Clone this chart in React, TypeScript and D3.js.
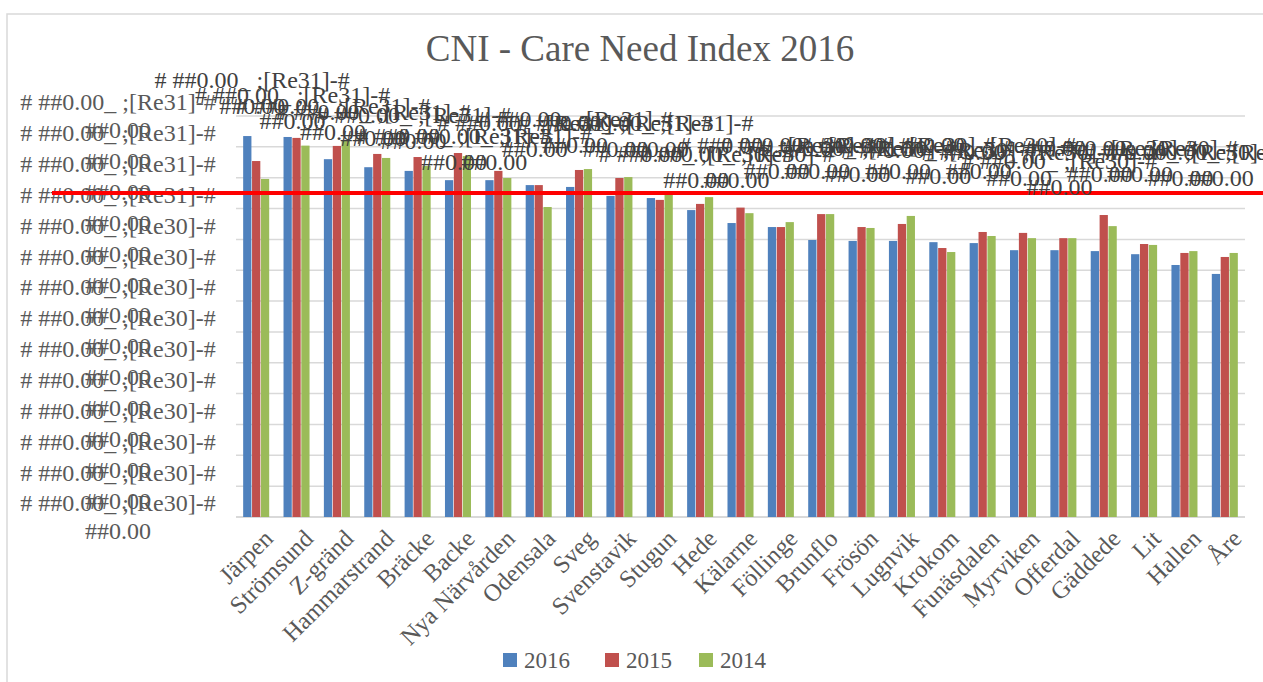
import React from "react";
import * as d3 from "d3";

// chart values
const categories = [
  "Järpen", "Strömsund", "Z-gränd", "Hammarstrand", "Bräcke", "Backe",
  "Nya Närvården", "Odensala", "Sveg", "Svenstavik", "Stugun", "Hede",
  "Kälarne", "Föllinge", "Brunflo", "Frösön", "Lugnvik", "Krokom",
  "Funäsdalen", "Myrviken", "Offerdal", "Gäddede", "Lit", "Hallen", "Åre",
];
const seriesNames = ["2016", "2015", "2014"];
const values2016 = [1.235, 1.232, 1.16, 1.134, 1.122, 1.092, 1.092, 1.076, 1.07, 1.041, 1.034, 0.995, 0.953, 0.94, 0.898, 0.895, 0.895, 0.891, 0.888, 0.865, 0.865, 0.862, 0.852, 0.817, 0.788];
const values2015 = [1.154, 1.229, 1.203, 1.177, 1.167, 1.18, 1.122, 1.076, 1.125, 1.099, 1.028, 1.015, 1.003, 0.94, 0.982, 0.94, 0.95, 0.872, 0.924, 0.921, 0.904, 0.979, 0.885, 0.856, 0.843];
const values2014 = [1.096, 1.204, 1.222, 1.164, 1.138, 1.17, 1.099, 1.005, 1.128, 1.102, 1.044, 1.037, 0.985, 0.956, 0.982, 0.937, 0.976, 0.859, 0.911, 0.904, 0.904, 0.943, 0.882, 0.862, 0.856];
// where each (broken) data label sits, in value units
const labelLevel = [1.417, 1.368, 1.335, 1.313, 1.303, 1.235, 1.235, 1.28, 1.293, 1.28, 1.28, 1.177, 1.177, 1.206, 1.206, 1.196, 1.206, 1.19, 1.206, 1.183, 1.157, 1.196, 1.196, 1.183, 1.183];
const average = 1.05;
const yMax = 1.3;

// the number format Excel failed to render
const fmtHigh = "# ##0.00_ ;[Re31]-#";
const fmtLow = "# ##0.00_ ;[Re30]-#";
const fmtTail = "##0.00";

const colors = ["#4F81BD", "#C0504D", "#9BBB59"];
const W = 1263, H = 682;
const plotL = 236, plotR = 1245, plotT = 116, plotB = 517;
const FONT = "'Liberation Serif', 'Times New Roman', serif";
const TXT = "#595959";

export default function App() {
  const series = [values2016, values2015, values2014];
  const x = d3.scaleBand<string>().domain(categories).range([plotL, plotR])
    .paddingInner(0.355).paddingOuter(0.1775);
  const x1 = d3.scaleBand<string>().domain(seriesNames).range([0, x.bandwidth()]).paddingInner(0.07);
  const y = d3.scaleLinear().domain([0, yMax]).range([plotB, plotT]);
  const ticks = y.ticks(13);
  const fmt = (v: number) => (v >= 0.999 ? fmtHigh : fmtLow);

  return (
    <svg width={W} height={H} style={{ position: "absolute", left: 0, top: 0, background: "#fff" }}
      fontFamily={FONT}>
      <rect x={7} y={14} width={1400} height={800} fill="#fff" stroke="#D9D9D9" strokeWidth={1.5} />
      <text x={640} y={61} textAnchor="middle" fontSize={37} fill={TXT}>CNI - Care Need Index 2016</text>

      {ticks.map((t) => (
        <line key={"g" + t} x1={plotL} x2={plotR} y1={y(t)} y2={y(t)}
          stroke="#D9D9D9" strokeWidth={t === 0 ? 2 : 1.5} />
      ))}

      {ticks.map((t) => (
        <g key={"t" + t} fontSize={24} fill={TXT} textAnchor="middle">
          <text x={118} y={y(t) - 14} dy="0.35em">{fmt(t)}</text>
          <text x={118} y={y(t) + 14} dy="0.35em">{fmtTail}</text>
        </g>
      ))}

      {categories.map((c, i) => (
        <g key={c} transform={`translate(${x(c)},0)`}>
          {series.map((s, j) => (
            <rect key={j} x={x1(seriesNames[j])} y={y(s[i])} width={x1.bandwidth()}
              height={plotB - y(s[i])} fill={colors[j]} />
          ))}
        </g>
      ))}

      {categories.map((c) => {
        const cx = (x(c) as number) + x.bandwidth() / 2;
        return (
          <text key={"x" + c} transform={`translate(${cx + 6},${plotB + 11}) rotate(-45)`}
            textAnchor="end" fontSize={24.5} fill={TXT} dy="0.7em">{c}</text>
        );
      })}

      <line x1={52} x2={W} y1={y(average)} y2={y(average)} stroke="#FF0000" strokeWidth={4} />

      {categories.map((c, i) => {
        const cx = (x(c) as number) + x.bandwidth() / 2;
        const ly = y(labelLevel[i]);
        return (
          <g key={"l" + c} fontSize={24} fill="#404040" textAnchor="middle">
            <text x={cx - 4} y={ly} dy="0.35em">{fmt(values2016[i])}</text>
            <text x={cx - 4} y={ly + 26} dy="0.35em">{fmtTail}</text>
          </g>
        );
      })}

      {seriesNames.map((s, j) => {
        const lx = [503, 605, 699][j];
        return (
          <g key={"lg" + s} transform={`translate(${lx},660)`}>
            <rect x={0} y={-7} width={14} height={14} fill={colors[j]} />
            <text x={21} y={0} dy="0.35em" fontSize={23} fill={TXT}>{s}</text>
          </g>
        );
      })}
    </svg>
  );
}
